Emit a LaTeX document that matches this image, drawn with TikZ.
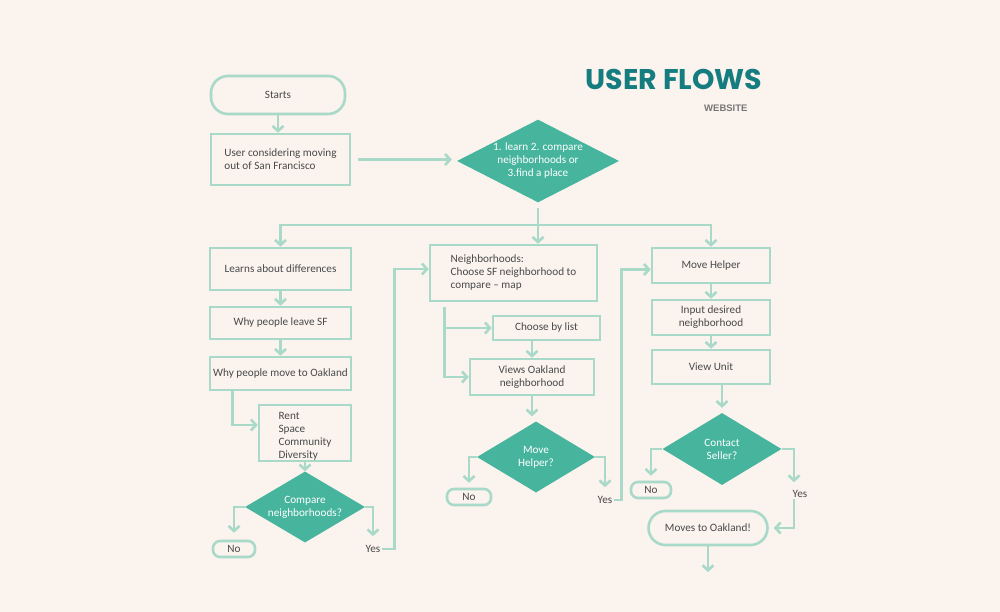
\documentclass[tikz,border=0pt]{standalone}
\usepackage{fontspec}
\setmainfont{Carlito}
\newfontfamily\titlefont{Poppins}
\newfontfamily\subfont{Liberation Sans}
\usetikzlibrary{arrows.meta,shapes.geometric}
\definecolor{paper}{HTML}{FAF3EE}
\definecolor{mint}{HTML}{A9D9C8}
\definecolor{sea}{HTML}{47B59E}
\definecolor{deepsea}{HTML}{157C80}
\definecolor{ink}{HTML}{4A4A4A}
\definecolor{subgray}{HTML}{767676}
\begin{document}
\begin{tikzpicture}[x=1pt, y=-1pt, >={Straight Barb[length=5pt,width=11pt]},
  every node/.style={font=\fontsize{11.2}{13}\selectfont},
  flow/.style={mint, line width=2.6pt},
  box/.style={draw=mint, line width=2.6pt, text=ink, inner sep=2pt, align=center},
  pill/.style={box, rounded corners=17pt},
  tag/.style={box, rounded corners=7pt, minimum width=42pt, minimum height=16pt, inner sep=0pt},
  ask/.style={diamond, fill=sea, text=white, inner sep=0pt, align=center},
  note/.style={text=ink, inner sep=1pt}]
\fill[paper] (0,0) rectangle (1000,612);

\node[font=\titlefont\bfseries\fontsize{28.5}{31}\selectfont, text=deepsea, anchor=west] (title) at (582,79) {USER FLOWS};
\node[font=\subfont\bfseries\fontsize{9.5}{11}\selectfont, text=subgray, anchor=east] (sub) at (751,108) {WEBSITE};

\node[pill, minimum width=134pt, minimum height=38pt] (start) at (278,95) {Starts};
\node[box, minimum width=139pt, minimum height=51pt, align=left] (user) at (280.5,159.5) {User considering moving\\out of San Francisco};
\node[ask, aspect=1.9, minimum width=162pt, minimum height=82pt] (goal) at (538,161) {1. learn 2. compare\\neighborhoods or\\3.find a place};

\node[box, minimum width=141pt, minimum height=42pt] (learn) at (280.5,269) {Learns about differences};
\node[box, minimum width=141pt, minimum height=32pt] (leave) at (280.5,323) {Why people leave SF};
\node[box, minimum width=141pt, minimum height=33pt] (oakland) at (280.5,373.5) {Why people move to Oakland};
\node[box, minimum width=92pt, minimum height=56pt, inner ysep=0pt, align=left] (reasons) at (305,433) {\rule{0pt}{14pt}Rent\\Space\\Community\\Diversity};
\node[ask, aspect=1.7, minimum width=120pt, minimum height=71pt] (compare) at (305,507) {Compare\\neighborhoods?};
\node[tag] (no1) at (234,549) {No};
\node[note] (yes1) at (373,549) {Yes};

\node[box, minimum width=167pt, minimum height=56pt, align=left] (nbh) at (513.5,273) {Neighborhoods:\\Choose SF neighborhood to\\compare – map};
\node[box, minimum width=107pt, minimum height=24pt] (list) at (546.5,328) {Choose by list};
\node[box, minimum width=124pt, minimum height=36pt] (views) at (532,377) {Views Oakland\\neighborhood};
\node[ask, aspect=1.66, minimum width=118pt, minimum height=71pt] (helpq) at (536,457) {Move\\Helper?};
\node[tag, minimum width=44pt] (no2) at (469,497) {No};
\node[note] (yes2) at (605,500) {Yes};

\node[box, minimum width=118pt, minimum height=35pt] (helper) at (711,265.5) {Move Helper};
\node[box, minimum width=118pt, minimum height=35pt] (input) at (711,317.5) {Input desired\\neighborhood};
\node[box, minimum width=118pt, minimum height=34pt] (unit) at (711,367) {View Unit};
\node[ask, aspect=1.65, minimum width=119pt, minimum height=72pt] (contact) at (722,449) {Contact\\Seller?};
\node[tag, minimum width=40pt] (no3) at (651,490) {No};
\node[note] (yes3) at (800,494) {Yes};
\node[pill, minimum width=119pt, minimum height=34pt] (moves) at (708,528) {Moves to Oakland!};
\coordinate (out) at (708,572);

\draw[flow,->] (start) -- (start|-user.north);
\draw[flow,->] ([xshift=7pt]user.east) -- ([xshift=-5pt]user.east -| goal.west);
\coordinate (bus) at (goal.south |- 0,225);
\draw[flow] ([yshift=-5pt]goal.south) -- (bus);
\draw[flow,->] (bus) -- (goal.south |- nbh.north);
\draw[flow,->] (bus) -| (learn);
\draw[flow,->] (bus) -| (helper);

\draw[flow,->] (learn) -- (leave);
\draw[flow,->] (leave) -- (oakland);
\draw[flow,->] ([xshift=-48pt]oakland.south) |- ([yshift=8pt]reasons.west);
\draw[flow,->] (reasons) -- (compare);
\draw[flow,->,shorten >=7pt] (compare.west) -| (no1);
\draw[flow,->,shorten >=8pt] (compare.east) -| (yes1);
\draw[flow,->] (yes1.east) -- ++(13,0) |- ([yshift=4pt]nbh.west);

\coordinate (fork) at ([xshift=-69pt,yshift=-5pt]nbh.south);
\draw[flow,->] (fork) |- (list);
\draw[flow,->] (fork) |- (views);
\draw[flow,->] (views.north |- list.south) -- (views);
\draw[flow,->,shorten >=5pt] (views) -- (views.south |- helpq.north);
\draw[flow,->,shorten >=5pt] (helpq.west) -| (no2);
\draw[flow,->,shorten >=8pt] (helpq.east) -| (yes2);
\draw[flow,->] (yes2.east) -- ++(8,0) |- ([yshift=-4pt]helper.west);

\draw[flow,->] (helper) -- (input);
\draw[flow,->] (input) -- (unit);
\draw[flow,->,shorten >=5pt] (contact.north |- unit.south) -- (contact.north);
\draw[flow,->,shorten >=5pt] (contact.west) -| (no3);
\draw[flow,->,shorten >=7pt] (contact.east) -| ([xshift=-6pt]yes3.north);
\draw[flow,->,shorten >=5pt] ([xshift=-6pt]yes3.south) |- (moves.east);
\draw[flow,->] (moves) -- (out);
\end{tikzpicture}
\end{document}
